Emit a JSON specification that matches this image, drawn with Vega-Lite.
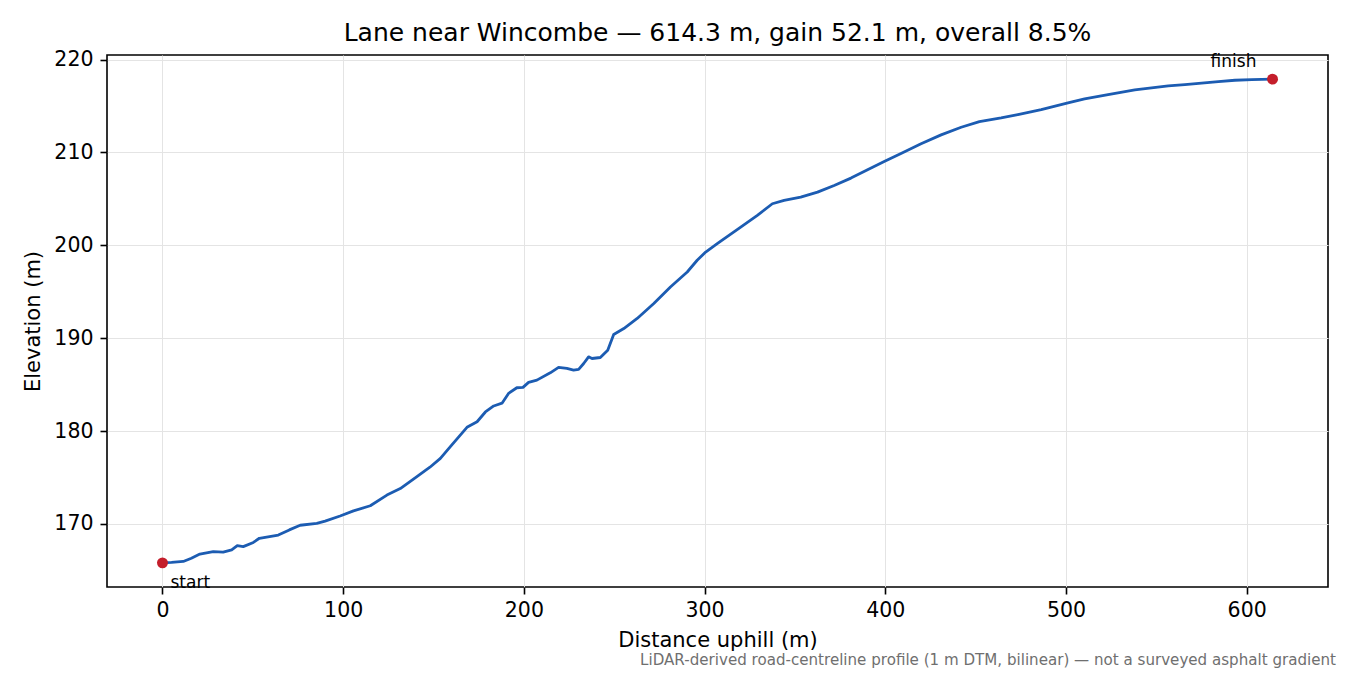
{
  "$schema": "https://vega.github.io/schema/vega-lite/v6.json",
  "width": 1221,
  "height": 532,
  "autosize": {"type": "none"},
  "padding": {"left": 107, "top": 55, "right": 22, "bottom": 88},
  "background": "white",
  "title": {
    "text": "Lane near Wincombe — 614.3 m, gain 52.1 m, overall 8.5%",
    "font": "DejaVu Sans",
    "fontSize": 25,
    "fontWeight": "normal",
    "color": "black",
    "frame": "group",
    "anchor": "middle",
    "baseline": "alphabetic",
    "offset": -16
  },
  "config": {
    "font": "DejaVu Sans",
    "view": {"stroke": "black", "strokeWidth": 1.6},
    "axis": {
      "grid": true,
      "gridColor": "#e4e4e4",
      "gridWidth": 1,
      "domain": false,
      "tickColor": "black",
      "tickSize": 7,
      "tickWidth": 1.6,
      "labelFont": "DejaVu Sans",
      "labelFontSize": 20.5,
      "labelColor": "black",
      "titleFont": "DejaVu Sans",
      "titleFontSize": 21,
      "titleFontWeight": "normal",
      "titleColor": "black"
    }
  },
  "datasets": {
    "profile": [
      {"distance": 0, "elevation": 165.8},
      {"distance": 5, "elevation": 165.85},
      {"distance": 11.5, "elevation": 165.95},
      {"distance": 16, "elevation": 166.3},
      {"distance": 20.7, "elevation": 166.75},
      {"distance": 28.1, "elevation": 167.0},
      {"distance": 33.6, "elevation": 166.95},
      {"distance": 38.3, "elevation": 167.2},
      {"distance": 41.4, "elevation": 167.65},
      {"distance": 44.7, "elevation": 167.55},
      {"distance": 50.3, "elevation": 168.0},
      {"distance": 53.6, "elevation": 168.45},
      {"distance": 64.1, "elevation": 168.8},
      {"distance": 70.2, "elevation": 169.35},
      {"distance": 76.2, "elevation": 169.85},
      {"distance": 85.4, "elevation": 170.05},
      {"distance": 90.0, "elevation": 170.3},
      {"distance": 98.3, "elevation": 170.85},
      {"distance": 105.7, "elevation": 171.4},
      {"distance": 115.0, "elevation": 171.95},
      {"distance": 124.2, "elevation": 173.1},
      {"distance": 131.6, "elevation": 173.8},
      {"distance": 140.8, "elevation": 175.1},
      {"distance": 148.0, "elevation": 176.1},
      {"distance": 153.8, "elevation": 177.05},
      {"distance": 159.2, "elevation": 178.3},
      {"distance": 168.5, "elevation": 180.4},
      {"distance": 174.1, "elevation": 181.0},
      {"distance": 178.7, "elevation": 182.05},
      {"distance": 183.3, "elevation": 182.7},
      {"distance": 187.9, "elevation": 183.0},
      {"distance": 191.5, "elevation": 184.05},
      {"distance": 196.1, "elevation": 184.66},
      {"distance": 199.5, "elevation": 184.7},
      {"distance": 202.6, "elevation": 185.24},
      {"distance": 207.2, "elevation": 185.48},
      {"distance": 214.6, "elevation": 186.27},
      {"distance": 219.2, "elevation": 186.85},
      {"distance": 223.8, "elevation": 186.74},
      {"distance": 227.5, "elevation": 186.56},
      {"distance": 230.3, "elevation": 186.63},
      {"distance": 233.1, "elevation": 187.27},
      {"distance": 235.8, "elevation": 187.99},
      {"distance": 237.7, "elevation": 187.81},
      {"distance": 242.3, "elevation": 187.92},
      {"distance": 246.4, "elevation": 188.71},
      {"distance": 249.7, "elevation": 190.4},
      {"distance": 255.3, "elevation": 191.04},
      {"distance": 262.7, "elevation": 192.12},
      {"distance": 271.9, "elevation": 193.73},
      {"distance": 281.1, "elevation": 195.52},
      {"distance": 290.4, "elevation": 197.13},
      {"distance": 295.9, "elevation": 198.39},
      {"distance": 300.6, "elevation": 199.28},
      {"distance": 307.0, "elevation": 200.18},
      {"distance": 320.0, "elevation": 201.97},
      {"distance": 329.2, "elevation": 203.23},
      {"distance": 337.5, "elevation": 204.48},
      {"distance": 344.0, "elevation": 204.84},
      {"distance": 353.2, "elevation": 205.19},
      {"distance": 362.5, "elevation": 205.73},
      {"distance": 371.7, "elevation": 206.45},
      {"distance": 381.0, "elevation": 207.24},
      {"distance": 390.2, "elevation": 208.14},
      {"distance": 399.4, "elevation": 209.03},
      {"distance": 408.7, "elevation": 209.9},
      {"distance": 419.8, "elevation": 210.94},
      {"distance": 430.9, "elevation": 211.9},
      {"distance": 442.0, "elevation": 212.72},
      {"distance": 452.1, "elevation": 213.33},
      {"distance": 464.1, "elevation": 213.73},
      {"distance": 473.4, "elevation": 214.09},
      {"distance": 486.3, "elevation": 214.62},
      {"distance": 501.1, "elevation": 215.34},
      {"distance": 510.3, "elevation": 215.77},
      {"distance": 523.3, "elevation": 216.24},
      {"distance": 538.1, "elevation": 216.74},
      {"distance": 556.6, "elevation": 217.17},
      {"distance": 565.8, "elevation": 217.31},
      {"distance": 584.3, "elevation": 217.63},
      {"distance": 593.5, "elevation": 217.78},
      {"distance": 602.8, "elevation": 217.85},
      {"distance": 614.3, "elevation": 217.9}
    ],
    "ends": [
      {"distance": 0, "elevation": 165.8, "label": "start"},
      {"distance": 614.3, "elevation": 217.9, "label": "finish"}
    ],
    "note": [
      {"distance": 645.0, "elevation": 163.2, "text": "LiDAR-derived road-centreline profile (1 m DTM, bilinear) — not a surveyed asphalt gradient"}
    ]
  },
  "layer": [
    {
      "data": {"name": "profile"},
      "mark": {"type": "line", "color": "#1c5cb2", "strokeWidth": 2.8, "strokeJoin": "round", "strokeCap": "round"},
      "encoding": {
        "x": {
          "field": "distance",
          "type": "quantitative",
          "scale": {"domain": [-30.7, 645.0], "nice": false, "zero": false},
          "axis": {"values": [0, 100, 200, 300, 400, 500, 600], "title": "Distance uphill (m)", "labelPadding": 6, "titlePadding": 9}
        },
        "y": {
          "field": "elevation",
          "type": "quantitative",
          "scale": {"domain": [163.2, 220.5], "nice": false, "zero": false},
          "axis": {"values": [170, 180, 190, 200, 210, 220], "title": "Elevation (m)", "labelPadding": 7, "titlePadding": 10}
        }
      }
    },
    {
      "data": {"name": "ends"},
      "mark": {"type": "point", "filled": true, "color": "#c41e2b", "size": 120, "opacity": 1},
      "encoding": {
        "x": {"field": "distance", "type": "quantitative"},
        "y": {"field": "elevation", "type": "quantitative"}
      }
    },
    {
      "data": {"name": "ends"},
      "transform": [{"filter": "datum.label == 'start'"}],
      "mark": {"type": "text", "align": "left", "baseline": "alphabetic", "dx": 8, "dy": 25, "fontSize": 17, "font": "DejaVu Sans", "color": "black"},
      "encoding": {
        "x": {"field": "distance", "type": "quantitative"},
        "y": {"field": "elevation", "type": "quantitative"},
        "text": {"field": "label"}
      }
    },
    {
      "data": {"name": "ends"},
      "transform": [{"filter": "datum.label == 'finish'"}],
      "mark": {"type": "text", "align": "center", "baseline": "alphabetic", "dx": -39, "dy": -12, "fontSize": 17, "font": "DejaVu Sans", "color": "black"},
      "encoding": {
        "x": {"field": "distance", "type": "quantitative"},
        "y": {"field": "elevation", "type": "quantitative"},
        "text": {"field": "label"}
      }
    },
    {
      "data": {"name": "note"},
      "mark": {"type": "text", "align": "right", "baseline": "alphabetic", "dx": 8, "dy": 78, "fontSize": 15.1, "font": "DejaVu Sans", "color": "#6f6f6f", "clip": false},
      "encoding": {
        "x": {"field": "distance", "type": "quantitative"},
        "y": {"field": "elevation", "type": "quantitative"},
        "text": {"field": "text"}
      }
    }
  ]
}
